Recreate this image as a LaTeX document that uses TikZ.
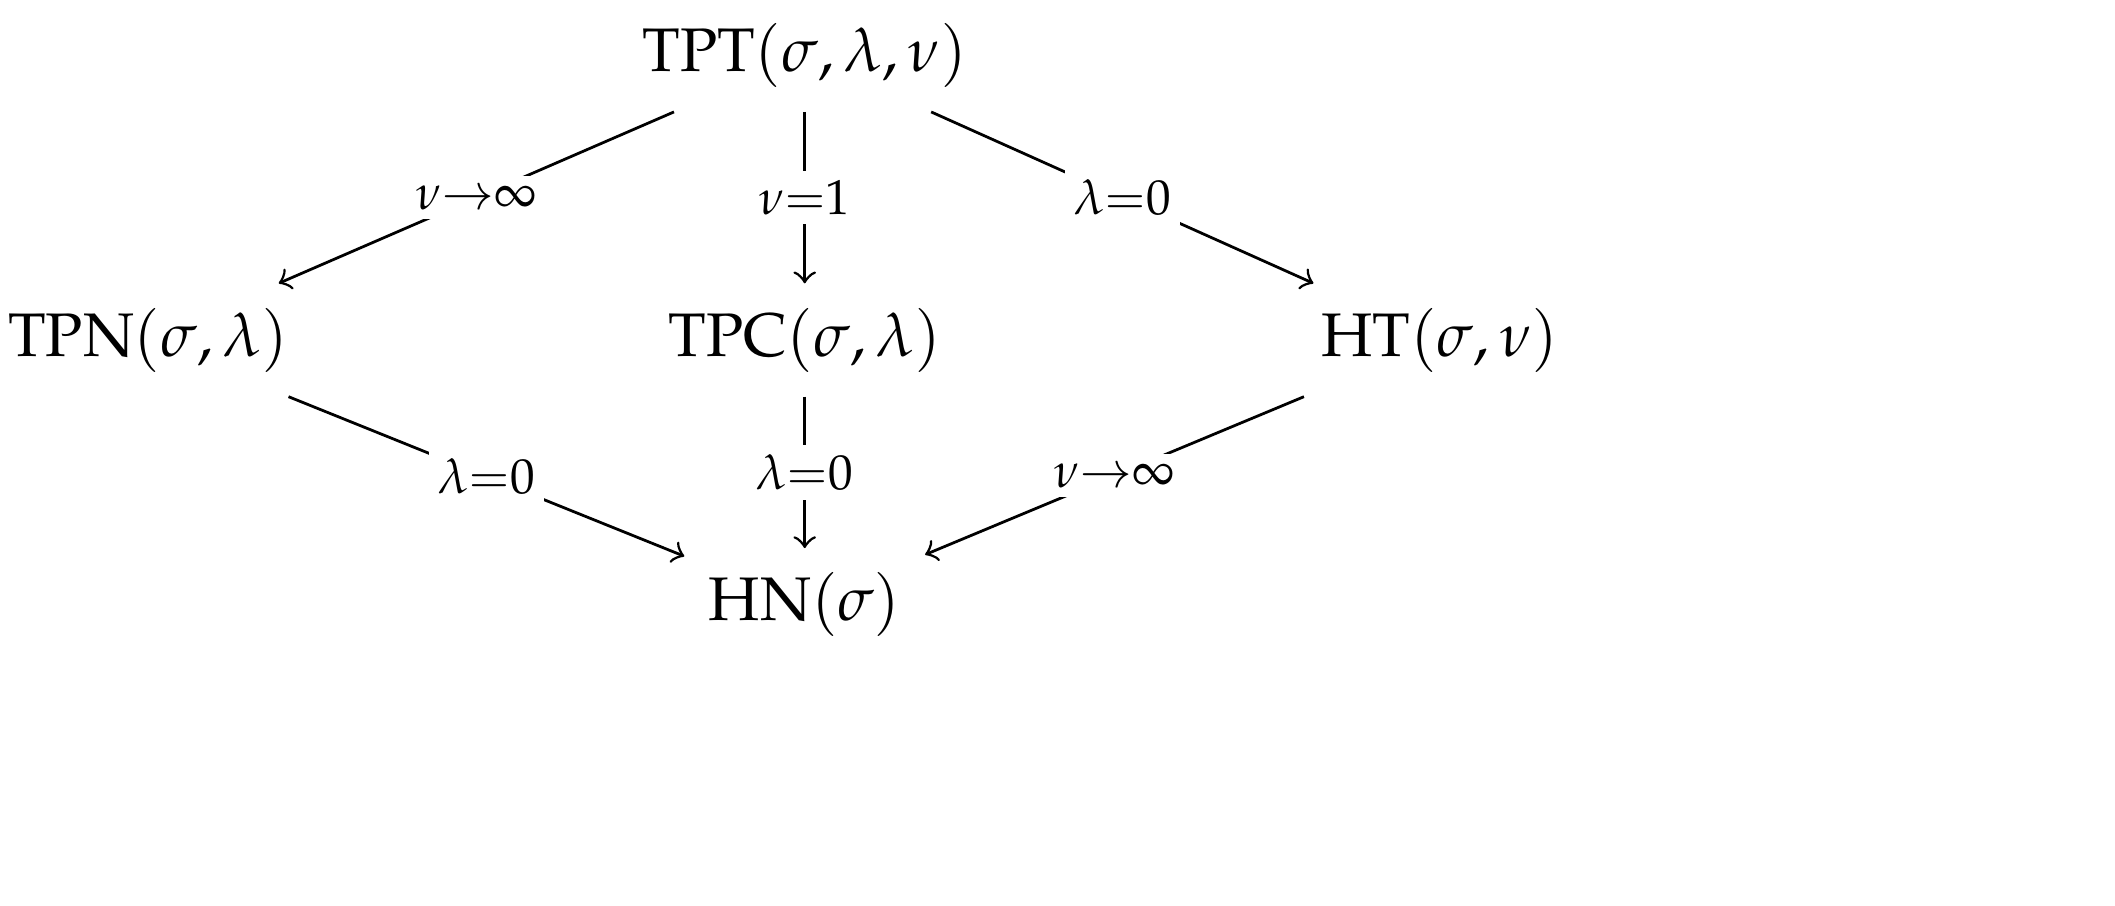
\documentclass[tikz,border=0pt]{standalone}
\usepackage[T1]{fontenc}
\usepackage{mathpazo}
\begin{document}
\begin{tikzpicture}[x=1.3pt,y=1.3pt,
  obj/.style={inner sep=1pt,outer sep=3pt},
  lab/.style={midway,fill=white,inner sep=1.5pt,font=\footnotesize},
  arr/.style={->,line width=0.45pt}]
\useasboundingbox (0,0) rectangle (264.4,-113.25);
\node[obj] (tpt) at (100.6,-6.9) {TPT$(\sigma,\lambda,\nu)$};
\node[obj] (tpn) at (18.5,-42.5) {TPN$(\sigma,\lambda)$};
\node[obj] (tpc) at (100.6,-42.5) {TPC$(\sigma,\lambda)$};
\node[obj] (ht) at (180,-42.5) {HT$(\sigma,\nu)$};
\node[obj] (hn) at (100.6,-75.6) {HN$(\sigma)$};
\draw[arr] (tpt) -- node[lab]{$\nu{\to}\infty$} (tpn);
\draw[arr] (tpt) -- node[lab]{$\nu{=}1$} (tpc);
\draw[arr] (tpt) -- node[lab]{$\lambda{=}0$} (ht);
\draw[arr] (tpn) -- node[lab]{$\lambda{=}0$} (hn);
\draw[arr] (tpc) -- node[lab]{$\lambda{=}0$} (hn);
\draw[arr] (ht) -- node[lab]{$\nu{\to}\infty$} (hn);
\end{tikzpicture}
\end{document}
